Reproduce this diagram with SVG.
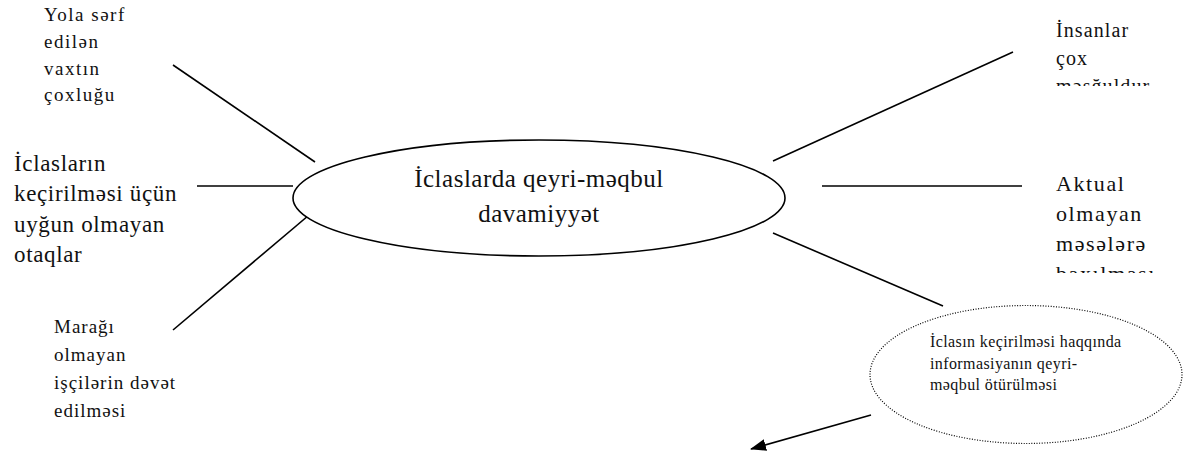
<svg xmlns="http://www.w3.org/2000/svg" width="1192" height="459" viewBox="0 0 1192 459">
<style>
text{font-family:"Liberation Serif","Times New Roman",serif;fill:#111;}
.conn line{stroke:#000;stroke-width:1.6;}
.main{fill:#fff;stroke:#000;stroke-width:1.6;}
.dot{fill:#fff;stroke:#000;stroke-width:1.2;stroke-dasharray:1 1.6;}
</style>
<defs>
<marker id="arr" markerWidth="16" markerHeight="12" refX="15" refY="6" orient="auto" markerUnits="userSpaceOnUse">
<path d="M0,0 L16,6 L0,12 Z" fill="#000"/>
</marker>
<clipPath id="clipR1"><rect x="1040" y="0" width="152" height="86"/></clipPath>
<clipPath id="clipR2"><rect x="1040" y="160" width="152" height="113"/></clipPath>
</defs>
<g id="connectors" class="conn">
<line x1="173" y1="65" x2="315" y2="162"/>
<line x1="197" y1="186" x2="293" y2="186"/>
<line x1="173" y1="330" x2="315" y2="210"/>
<line x1="773" y1="161" x2="1013" y2="52"/>
<line x1="822" y1="186" x2="1022" y2="186"/>
<line x1="773" y1="233" x2="943" y2="306"/>
<line x1="871" y1="415" x2="751" y2="449" marker-end="url(#arr)"/>
</g>
<g id="center">
<ellipse class="main" cx="539" cy="198" rx="246" ry="58"/>
<text x="539" y="187" font-size="25" letter-spacing="0.5" text-anchor="middle">İclaslarda qeyri-məqbul</text>
<text x="539" y="222" font-size="25" letter-spacing="0.5" text-anchor="middle">davamiyyət</text>
</g>
<g id="n-yol" font-size="19" letter-spacing="1.5">
<text x="44" y="21">Yola sərf</text>
<text x="44" y="48">edilən</text>
<text x="44" y="75">vaxtın</text>
<text x="44" y="101">çoxluğu</text>
</g>
<g id="n-otaq" font-size="23" letter-spacing="0.65">
<text x="14" y="171">İclasların</text>
<text x="14" y="201">keçirilməsi üçün</text>
<text x="14" y="232">uyğun olmayan</text>
<text x="14" y="262">otaqlar</text>
</g>
<g id="n-maraq" font-size="19" letter-spacing="1">
<text x="54" y="333">Marağı</text>
<text x="54" y="361">olmayan</text>
<text x="54" y="389">işçilərin dəvət</text>
<text x="54" y="417">edilməsi</text>
</g>
<g id="n-insan" font-size="20" letter-spacing="1.1" clip-path="url(#clipR1)">
<text x="1056" y="37">İnsanlar</text>
<text x="1056" y="65">çox</text>
<text x="1056" y="93">məşğuldur</text>
</g>
<g id="n-aktual" font-size="22" letter-spacing="1.6" clip-path="url(#clipR2)">
<text x="1056" y="191">Aktual</text>
<text x="1056" y="221">olmayan</text>
<text x="1056" y="251">məsələrə</text>
<text x="1056" y="281">baxılması</text>
</g>
<g id="n-info">
<ellipse class="dot" cx="1026" cy="374.5" rx="156" ry="69"/>
<g font-size="16" letter-spacing="0.4">
<text x="930" y="347">İclasın keçirilməsi haqqında</text>
<text x="930" y="369">informasiyanın qeyri-</text>
<text x="930" y="390">məqbul ötürülməsi</text>
</g>
</g>
</svg>
